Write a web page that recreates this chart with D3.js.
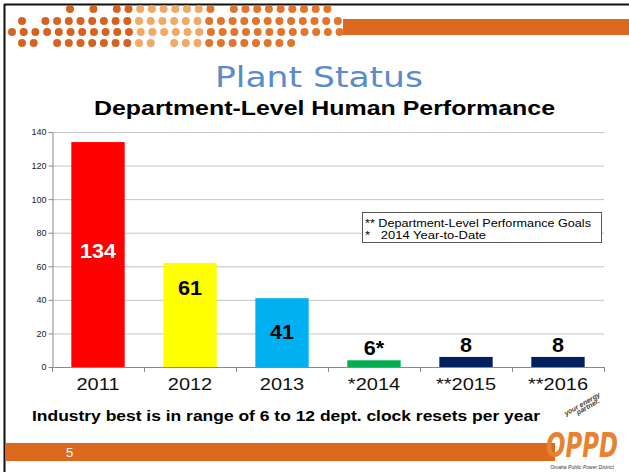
<!DOCTYPE html>
<html>
<head>
<meta charset="utf-8">
<script src="https://cdn.jsdelivr.net/npm/d3@7"></script>
<style>
  body { margin: 0; background: #fff; }
  svg { display: block; font-family: "Liberation Sans", Arial, sans-serif; }
</style>
</head>
<body>
<div id="chart"></div>
<script>
// chart data
const years = ["2011", "2012", "2013", "*2014", "**2015", "**2016"];
const values = [134, 62, 41, 4, 6, 6];
const valueLabels = ["134", "61", "41", "6*", "8", "8"];
const barColors = ["#ff0000", "#ffff00", "#00b0f0", "#00b050", "#002060", "#002060"];
const yTicks = [0, 20, 40, 60, 80, 100, 120, 140];
const notes = ["** Department-Level Performance Goals", "*   2014 Year-to-Date"];

const W = 629, H = 472;
const orange = "#dc6a1e";

const svg = d3.select("#chart").append("svg")
  .attr("width", W)
  .attr("height", H);

svg.append("rect").attr("width", W).attr("height", H).attr("fill", "white");

// slide frame (top + left)
svg.append("line").attr("x1", 4).attr("y1", 4.5).attr("x2", W).attr("y2", 4.5)
  .attr("stroke", "#111").attr("stroke-width", 2);
svg.append("line").attr("x1", 4.5).attr("y1", 4).attr("x2", 4.5).attr("y2", H)
  .attr("stroke", "#111").attr("stroke-width", 2);

// header decoration: orange band + dotted pattern
svg.append("rect").attr("x", 343).attr("y", 19).attr("width", W - 343).attr("height", 16)
  .attr("fill", orange);

const dotRows = [
  {y: 9, from: 70, to: 330, skip: [[80, 90], [105, 115], [220, 230]]},
  {y: 21, from: 22, to: 343, skip: [[30, 45]]},
  {y: 32, from: 12, to: 343, skip: []},
  {y: 43, from: 22, to: 296, skip: [[45, 55], [160, 172]]}
];
const dotG = svg.append("g");
dotRows.forEach(r => {
  for (let x = r.from; x <= r.to; x += 11.7) {
    if (r.skip.some(s => x >= s[0] && x <= s[1])) continue;
    dotG.append("circle").attr("cx", x).attr("cy", r.y).attr("r", 4)
      .attr("fill", x < 130 ? "#d45a15" : x < 200 ? "#f2a45e" : "#e06e22")
      .attr("opacity", 0.95);
  }
});

// titles
svg.append("text")
  .attr("x", 215).attr("y", 87)
  .attr("font-family", "'DejaVu Sans', Verdana, sans-serif")
  .attr("font-size", 29)
  .attr("fill", "#5a8bcb")
  .attr("textLength", 208)
  .attr("lengthAdjust", "spacingAndGlyphs")
  .text("Plant Status");

svg.append("text")
  .attr("x", 94).attr("y", 115)
  .attr("font-size", 20)
  .attr("font-weight", "bold")
  .attr("fill", "#000")
  .attr("textLength", 461)
  .attr("lengthAdjust", "spacingAndGlyphs")
  .text("Department-Level Human Performance");

// scales
const x = d3.scaleBand().domain(years).range([52, 604]).paddingInner(0.42).paddingOuter(0.21);
const y = d3.scaleLinear().domain([0, 140]).range([367, 132]);

// gridlines
svg.append("g")
  .selectAll("line")
  .data(yTicks.filter(d => d > 0))
  .join("line")
  .attr("x1", 52).attr("x2", 604)
  .attr("y1", d => y(d) + 0.5).attr("y2", d => y(d) + 0.5)
  .attr("stroke", "#c4c4c4").attr("stroke-width", 1);

// bars
svg.append("g")
  .selectAll("rect")
  .data(values)
  .join("rect")
  .attr("x", (d, i) => x(years[i]))
  .attr("y", d => y(d))
  .attr("width", x.bandwidth())
  .attr("height", d => y(0) - y(d))
  .attr("fill", (d, i) => barColors[i]);

// y axis
const yAxis = svg.append("g")
  .attr("transform", "translate(52.5,0)")
  .call(d3.axisLeft(y).tickValues(yTicks).tickSize(4).tickSizeOuter(0));
yAxis.selectAll("text").attr("font-size", 9).attr("font-family", "'Liberation Sans', Arial").attr("fill", "#222").attr("x", -6);
yAxis.selectAll("line").attr("stroke", "#888");
yAxis.select(".domain").attr("stroke", "#888");

// x axis (ticks on band boundaries)
const xAxisG = svg.append("g");
xAxisG.append("line").attr("x1", 52).attr("x2", 604).attr("y1", 367.5).attr("y2", 367.5)
  .attr("stroke", "#888");
xAxisG.selectAll("line.tk")
  .data(years.concat(["end"]))
  .join("line")
  .attr("class", "tk")
  .attr("x1", (d, i) => 52.5 + i * x.step()).attr("x2", (d, i) => 52.5 + i * x.step())
  .attr("y1", 367).attr("y2", 372)
  .attr("stroke", "#888");
xAxisG.selectAll("text")
  .data(years)
  .join("text")
  .attr("transform", d => "translate(" + (x(d) + x.bandwidth() / 2) + ",390) scale(1.25,1)")
  .attr("text-anchor", "middle")
  .attr("font-size", 16)
  .attr("fill", "#111")
  .text(d => d);

// value labels
const labelY = [258, 295, 339, null, null, null];
svg.append("g")
  .selectAll("text")
  .data(valueLabels)
  .join("text")
  .attr("transform", (d, i) => "translate(" + (x(years[i]) + x.bandwidth() / 2) + "," +
    (labelY[i] !== null ? labelY[i] : y(values[i]) - 5) + ") scale(1.08,1)")
  .attr("text-anchor", "middle")
  .attr("font-size", 20)
  .attr("font-weight", "bold")
  .attr("fill", (d, i) => i === 0 ? "#fff" : "#000")
  .text(d => d);

// notes box
const noteG = svg.append("g");
noteG.append("rect")
  .attr("x", 362.5).attr("y", 212.5).attr("width", 239).attr("height", 30)
  .attr("fill", "white").attr("stroke", "#555").attr("stroke-width", 1);
noteG.selectAll("text")
  .data(notes)
  .join("text")
  .attr("x", 365)
  .attr("y", (d, i) => 227 + i * 12)
  .attr("font-size", 11)
  .attr("fill", "#000")
  .attr("xml:space", "preserve")
  .style("white-space", "pre")
  .attr("textLength", (d, i) => i === 0 ? 226 : 121)
  .attr("lengthAdjust", "spacingAndGlyphs")
  .text(d => d);

// footnote
svg.append("text")
  .attr("x", 32).attr("y", 421)
  .attr("font-size", 15)
  .attr("font-weight", "bold")
  .attr("fill", "#000")
  .attr("textLength", 508)
  .attr("lengthAdjust", "spacingAndGlyphs")
  .text("Industry best is in range of 6 to 12 dept. clock resets per year");

// footer band
svg.append("rect").attr("x", 5).attr("y", 443).attr("width", 550).attr("height", 18)
  .attr("fill", orange);
svg.append("text").attr("x", 66).attr("y", 457)
  .attr("font-size", 13).attr("fill", "#fff").text("5");

// logo
const logo = svg.append("g");
logo.append("text")
  .attr("x", 546).attr("y", 457)
  .attr("font-size", 34)
  .attr("font-weight", "bold")
  .attr("font-style", "italic")
  .attr("font-family", "'DejaVu Sans Condensed', 'Liberation Sans Narrow', sans-serif")
  .attr("fill", "#e8822e")
  .attr("textLength", 72)
  .attr("lengthAdjust", "spacingAndGlyphs")
  .text("OPPD");
logo.append("text")
  .attr("x", 582).attr("y", 469)
  .attr("text-anchor", "middle")
  .attr("font-size", 5)
  .attr("font-style", "italic")
  .attr("fill", "#333")
  .text("Omaha Public Power District");
logo.append("text")
  .attr("transform", "translate(566,416) rotate(-30)")
  .attr("font-size", 7)
  .attr("font-style", "italic")
  .attr("font-weight", "bold")
  .attr("fill", "#444")
  .text("your energy");
logo.append("text")
  .attr("transform", "translate(578,415) rotate(-30)")
  .attr("font-size", 7)
  .attr("font-style", "italic")
  .attr("font-weight", "bold")
  .attr("fill", "#444")
  .text("partner.");
</script>
</body>
</html>
